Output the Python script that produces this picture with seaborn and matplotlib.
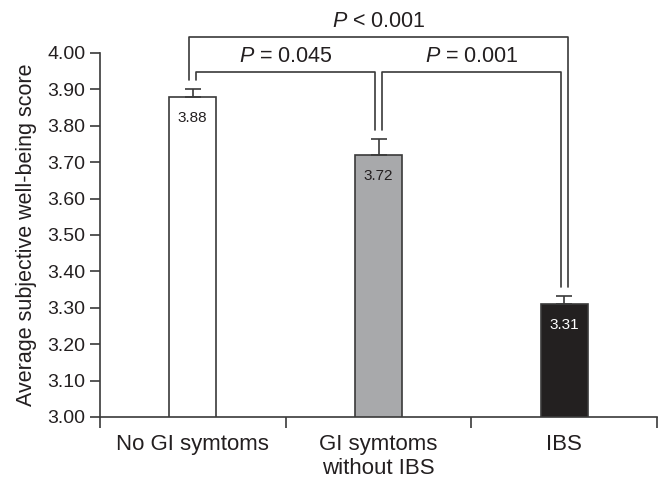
import matplotlib
matplotlib.use("Agg")
import matplotlib.pyplot as plt
import seaborn as sns

# === Data ===
categories = ["No GI symtoms", "GI symtoms\nwithout IBS", "IBS"]
scores = [3.88, 3.72, 3.31]
errors = [0.02, 0.044, 0.022]
bar_colors = ["#ffffff", "#a7a9ac", "#231f20"]
label_colors = ["#231f20", "#231f20", "#ffffff"]
y_ticks = [3.00, 3.10, 3.20, 3.30, 3.40, 3.50, 3.60, 3.70, 3.80, 3.90, 4.00]
# comparisons: (left bar, right bar, bracket height, text)
comparisons = [
    (0, 1, 3.948, "$P$ = 0.045"),
    (1, 2, 3.948, "$P$ = 0.001"),
    (0, 2, 4.044, "$P$ < 0.001"),
]

INK = "#231f20"
LINE = "#3a3a3a"

sns.set_style("ticks")
plt.rcParams["font.family"] = ["Liberation Sans", "DejaVu Sans"]
plt.rcParams["mathtext.fontset"] = "custom"
plt.rcParams["mathtext.it"] = "Liberation Sans:italic"
plt.rcParams["mathtext.rm"] = "Liberation Sans"

fig = plt.figure(figsize=(6.7, 4.9), dpi=100)
ax = fig.add_axes([0.149, 0.149, 0.832, 0.743])

sns.barplot(x=categories, y=scores, hue=categories, palette=bar_colors,
            legend=False, width=0.253, edgecolor=LINE, linewidth=1.2,
            errorbar=None, ax=ax, zorder=2)

# upper-only error bars
ax.errorbar(range(len(scores)), scores, yerr=[[0] * len(errors), errors],
            fmt="none", ecolor=LINE, elinewidth=1.2, capsize=6, capthick=1.2,
            zorder=3)

# value labels inside bars
for i, (v, c) in enumerate(zip(scores, label_colors)):
    ax.text(i, v - 0.058, f"{v:.2f}", ha="center", va="center",
            fontsize=11, color=c, zorder=4)

# significance brackets
gap = 0.025
off = 0.02
for a, b, h, txt in comparisons:
    xa = a + (-off if b - a > 1 else off)
    xb = b + (off if b - a > 1 else -off)
    ya = scores[a] + errors[a] + gap
    yb = scores[b] + errors[b] + gap
    ax.plot([xa, xa, xb, xb], [ya, h, h, yb], color=LINE, lw=1.2,
            clip_on=False, zorder=3)
    ax.text((a + b) / 2, h + 0.042, txt, ha="center", va="center",
            fontsize=15.5, color=INK, clip_on=False)

ax.set_xlim(-0.5, 2.5)
ax.set_ylim(3.0, 4.0)
ax.set_yticks(y_ticks)
ax.set_yticklabels([f"{t:.2f}" for t in y_ticks], fontsize=14, color=INK)
ax.set_ylabel("Average subjective well-being score", fontsize=15.5, color=INK,
              labelpad=7)

# boundary ticks as major, category names as minor
ax.set_xticks([-0.5, 0.5, 1.5, 2.5])
ax.set_xticklabels([])
ax.set_xticks([0, 1, 2], minor=True)
ax.set_xticklabels(categories, minor=True, fontsize=16, color=INK)
ax.tick_params(axis="x", which="minor", length=0, pad=12)
ax.tick_params(axis="x", which="major", length=8, width=1.2, color=LINE)
ax.tick_params(axis="y", length=7, width=1.2, color=LINE)

sns.despine(ax=ax)
ax.spines["left"].set_color(LINE)
ax.spines["bottom"].set_color(LINE)
ax.spines["left"].set_linewidth(1.2)
ax.spines["bottom"].set_linewidth(1.2)

fig.savefig("out.png", dpi=100)
